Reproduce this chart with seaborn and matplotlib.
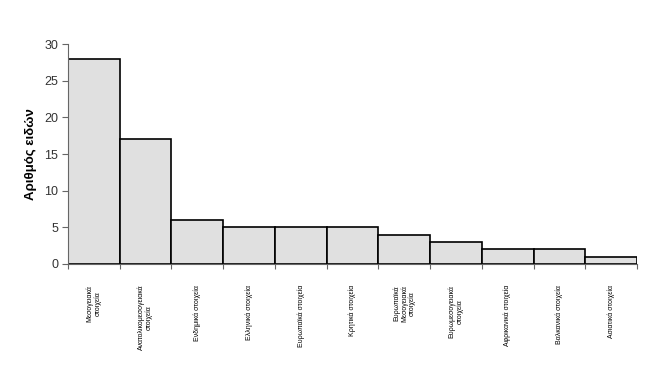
import numpy as np
import pandas as pd
import matplotlib
matplotlib.use("Agg")
import matplotlib.pyplot as plt
import seaborn as sns

categories = [
    "Μεσογειακά\nστοιχεία",
    "Ανατολικομεσογειακά\nστοιχεία",
    "Ενδημικά στοιχεία",
    "Ελληνικά στοιχεία",
    "Ευρωπαϊκά στοιχεία",
    "Κρητικά στοιχεία",
    "Ευρωπαϊκά\nΜεσογειακά\nστοιχεία",
    "Ευρωμεσογειακά\nστοιχεία",
    "Αφρικανικά στοιχεία",
    "Βαλκανικά στοιχεία",
    "Ασιατικά στοιχεία",
]
counts = [28, 17, 6, 5, 5, 5, 4, 3, 2, 2, 1]

sns.set_style("ticks")
plt.rcParams['font.family'] = ['Liberation Sans', 'DejaVu Sans']

df = pd.DataFrame({"cat": categories, "n": counts})

fig = plt.figure(figsize=(6.5, 3.67), dpi=100)
ax = fig.add_axes([0.1046, 0.2807, 0.8754, 0.5993])
sns.barplot(data=df, x="cat", y="n", color="#e0e0e0", saturation=1,
            width=1.0, edgecolor="black", linewidth=1.2, ax=ax)

n = len(categories)
ax.set_xlim(-0.5, n - 0.5)
ax.set_ylim(0, 30)
ax.set_yticks(range(0, 31, 5))
ax.set_xticks(range(n))
ax.set_xticklabels(categories, rotation=90, fontsize=5, va="top", ha="center",
                   linespacing=1.05, color="black")
ax.set_xticks(np.arange(-0.5, n, 1.0), minor=True)
ax.tick_params(axis="x", which="major", bottom=False, length=0, pad=15)
ax.tick_params(axis="x", which="minor", bottom=True, length=3.5, width=0.8,
               color="#666666", direction="out")
ax.tick_params(axis="y", left=True, length=4, width=0.8, color="#666666",
               direction="out", labelsize=9, labelcolor="#333333", pad=3)
for s in ["top", "right"]:
    ax.spines[s].set_visible(False)
ax.spines["left"].set_color("#666666")
ax.spines["bottom"].set_color("#666666")
ax.set_xlabel("")
ax.set_ylabel("Αριθμός ειδών", fontsize=9.5, fontweight="bold", labelpad=5,
              color="black")

plt.savefig("out.png", dpi=100)
